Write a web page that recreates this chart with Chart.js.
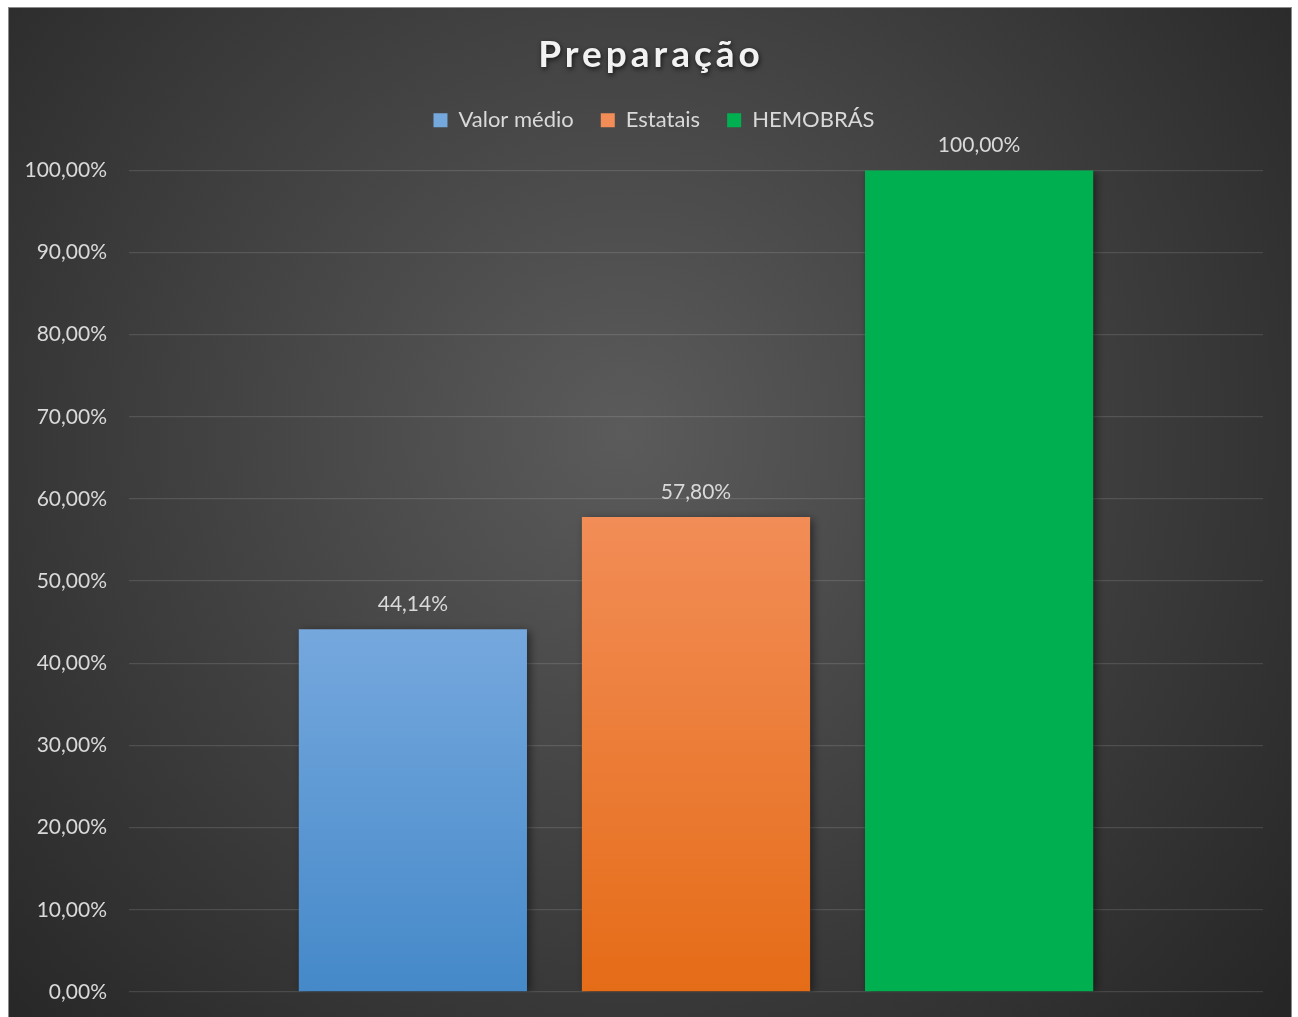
<!DOCTYPE html>
<html>
<head>
<meta charset="utf-8">
<script src="https://cdn.jsdelivr.net/npm/chart.js@4"></script>
<style>
 html,body{margin:0;padding:0;background:#fff;}
 #wrap{position:absolute;left:8px;top:7px;width:1284px;height:1010px;box-sizing:border-box;border-left:1px solid #8a8a8a;border-top:1px solid #8a8a8a;border-right:1px solid #8a8a8a;}
</style>
</head>
<body>
<div id="wrap"><canvas id="prepChart"></canvas></div>
<script>
const categories=['Preparação'];
const seriesNames=['Valor médio','Estatais','HEMOBRÁS'];
const valorMedio=[44.14];
const estatais=[57.80];
const hemobras=[100.00];
const yTicks=[0,10,20,30,40,50,60,70,80,90,100];

const barTop=['#75a8dd','#f28d57','#00b050'];
const barBottom=['#4589c9','#e56c17','#00b050'];

function pct(v){return v.toFixed(2).replace('.',',')+'%';}

function barFill(i){
 return function(c){
  const chart=c.chart;
  if(!chart.chartArea||c.parsed===undefined) return barTop[i];
  const y=chart.scales.y;
  const g=chart.ctx.createLinearGradient(0,y.getPixelForValue(c.parsed.y),0,y.getPixelForValue(0));
  g.addColorStop(0,barTop[i]);
  g.addColorStop(1,barBottom[i]);
  return g;
 };
}

const bgPlugin={
 id:'bg',
 afterInit(chart){
  // fixed legend block height so the plot starts where it should
  const lg=chart.legend,fit=lg.fit;
  lg.fit=function(){fit.call(this);this.height=88;};
 },
 afterLayout(chart){
  // centre legend on the whole panel, not on the padded area
  chart.legend.left+=18;
  chart.legend.right+=18;
 },
 beforeDraw(chart){
  const ctx=chart.ctx,w=chart.width,h=chart.height;
  const g=ctx.createRadialGradient(w*0.48,h*0.42,0,w*0.48,h*0.42,w*0.68);
  g.addColorStop(0,'#5b5b5b');
  g.addColorStop(1,'#262626');
  ctx.save();
  ctx.fillStyle=g;
  ctx.fillRect(0,0,w,h);
  ctx.restore();
 }
};

const shadowPlugin={
 id:'barShadow',
 beforeDatasetsDraw(chart){
  const ctx=chart.ctx;
  ctx.save();
  ctx.shadowColor='rgba(0,0,0,0.55)';
  ctx.shadowBlur=9;
  ctx.shadowOffsetX=3;
  ctx.shadowOffsetY=2;
 },
 afterDatasetsDraw(chart){
  chart.ctx.restore();
 }
};

const labelPlugin={
 id:'valueLabels',
 afterDatasetsDraw(chart){
  const ctx=chart.ctx;
  ctx.save();
  ctx.font='21px Lato';
  ctx.fillStyle='#d9d9d9';
  ctx.textAlign='center';
  ctx.textBaseline='middle';
  chart.data.datasets.forEach((ds,i)=>{
   chart.getDatasetMeta(i).data.forEach((bar,j)=>{
    ctx.fillText(pct(ds.data[j]),bar.x,bar.y-25);
   });
  });
  ctx.restore();
 }
};

const titlePlugin={
 id:'fancyTitle',
 afterDraw(chart){
  const ctx=chart.ctx;
  ctx.save();
  ctx.font='bold 37px Lato';
  ctx.letterSpacing='4px';
  ctx.fillStyle='#f2f2f2';
  ctx.textAlign='center';
  ctx.textBaseline='middle';
  ctx.shadowColor='rgba(0,0,0,0.7)';
  ctx.shadowBlur=5;
  ctx.shadowOffsetX=1;
  ctx.shadowOffsetY=2;
  ctx.fillText(categories[0],chart.width/2+1,47);
  ctx.restore();
 }
};

new Chart(document.getElementById('prepChart'),{
 type:'bar',
 data:{
  labels:categories,
  datasets:[
   {label:seriesNames[0],data:valorMedio,backgroundColor:barFill(0)},
   {label:seriesNames[1],data:estatais,backgroundColor:barFill(1)},
   {label:seriesNames[2],data:hemobras,backgroundColor:barFill(2)}
  ]
 },
 options:{
  responsive:true,
  maintainAspectRatio:false,
  animation:false,
  categoryPercentage:0.749,
  barPercentage:0.806,
  layout:{padding:{left:0,right:28,bottom:25,top:0}},
  plugins:{
   title:{display:true,text:categories[0],color:'transparent',font:{family:'Lato',size:36,weight:'bold'},padding:{top:25,bottom:6}},
   legend:{
    display:true,
    position:'top',
    labels:{
     color:'#d9d9d9',
     font:{family:'Lato',size:22},
     boxWidth:14,
     boxHeight:14,
     padding:27,
     generateLabels(chart){
      return chart.data.datasets.map((ds,i)=>({text:ds.label,fillStyle:barTop[i],strokeStyle:barTop[i],lineWidth:0,datasetIndex:i,hidden:false,fontColor:'#d9d9d9'}));
     }
    }
   },
   tooltip:{enabled:false}
  },
  scales:{
   x:{display:false},
   y:{
    min:0,max:100,
    afterBuildTicks(s){s.ticks=yTicks.map(v=>({value:v}));},
    afterFit(s){s.width=120;},
    ticks:{color:'#d9d9d9',font:{family:'Lato',size:21},padding:0,callback:v=>pct(v)},
    grid:{color:'rgba(255,255,255,0.12)',lineWidth:1.3,drawTicks:true,tickLength:22,tickColor:'transparent'},
    border:{display:false}
   }
  }
 },
 plugins:[bgPlugin,shadowPlugin,labelPlugin,titlePlugin]
});
</script>
</body>
</html>
